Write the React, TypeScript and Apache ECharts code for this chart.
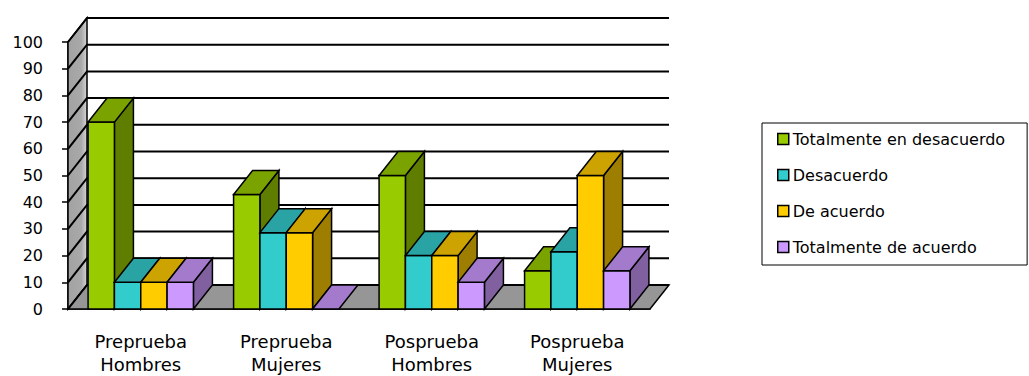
import React, { useEffect, useRef } from 'react';
import * as echarts from 'echarts';

// Survey groups on the category axis
const categories = ['Preprueba Hombres', 'Preprueba Mujeres', 'Posprueba Hombres', 'Posprueba Mujeres'];

// Response options (percent per group)
const seriesNames = ['Totalmente en desacuerdo', 'Desacuerdo', 'De acuerdo', 'Totalmente de acuerdo'];
const totalmenteDesacuerdo = [70, 42.9, 50, 14.3];
const desacuerdo = [10, 28.6, 20, 21.4];
const deAcuerdo = [10, 28.6, 20, 50];
const totalmenteAcuerdo = [10, 0, 10, 14.3];
const seriesValues = [totalmenteDesacuerdo, desacuerdo, deAcuerdo, totalmenteAcuerdo];

// Value axis ticks / gridlines
const yTicks = [0, 10, 20, 30, 40, 50, 60, 70, 80, 90, 100];

// Face colours of each 3D column: front, top, side
const palette = [
  { front: '#99CC00', top: '#7AA300', side: '#5F7E00' },
  { front: '#33CCCC', top: '#29A3A3', side: '#207E7E' },
  { front: '#FFCC00', top: '#CCA300', side: '#9E7E00' },
  { front: '#CC99FF', top: '#A37ACC', side: '#80609F' },
];

// Oblique depth offset of the 3D box (pixels)
const DX = 19;
const DY = -24;
const BAR_RATIO = 0.181; // column width as a share of the category band
const FONT = '"DejaVu Sans", "Liberation Sans", Arial, sans-serif';

const outline = { stroke: '#000', lineWidth: 1.5, lineJoin: 'miter' as const };

function barRenderer(idx: number) {
  const c = palette[idx];
  const n = seriesValues.length;
  return (params: any, api: any) => {
    const cat = api.value(0);
    const val = api.value(1);
    const base = api.coord([cat, 0]);
    const top = api.coord([cat, val]);
    const band = api.size([1, 0])[0];
    const bw = band * BAR_RATIO;
    const x0 = base[0] - (n / 2) * bw + idx * bw;
    const x1 = x0 + bw;
    const yb = base[1];
    const yt = top[1];
    const children: any[] = [];
    if (yb - yt > 0.01) {
      children.push({
        type: 'polygon',
        shape: { points: [[x1, yt], [x1 + DX, yt + DY], [x1 + DX, yb + DY], [x1, yb]] },
        style: { fill: c.side, ...outline },
      });
      children.push({
        type: 'rect',
        shape: { x: x0, y: yt, width: bw, height: yb - yt },
        style: { fill: c.front, ...outline },
      });
    }
    children.push({
      type: 'polygon',
      shape: { points: [[x0, yt], [x1, yt], [x1 + DX, yt + DY], [x0 + DX, yt + DY]] },
      style: { fill: c.top, ...outline },
    });
    return { type: 'group', children };
  };
}

// Left wall, back wall and floor of the 3D box
function wallRenderer(params: any, api: any) {
  const cs = params.coordSys;
  const xl = cs.x;
  const xr = cs.x + cs.width;
  const y0 = api.coord([0, 0])[1];
  const yMax = api.coord([0, yTicks[yTicks.length - 1]])[1];
  return {
    type: 'group',
    children: [
      {
        type: 'rect',
        shape: { x: xl + DX, y: yMax + DY, width: xr - xl, height: y0 - yMax },
        style: { fill: '#fff' },
      },
      {
        type: 'polygon',
        shape: { points: [[xl, yMax], [xl + DX, yMax + DY], [xl + DX, y0 + DY], [xl, y0]] },
        style: {
          fill: new echarts.graphic.LinearGradient(0, 0, 1, 0, [
            { offset: 0, color: '#a2a2a2' },
            { offset: 0.7, color: '#a9a9a9' },
            { offset: 1, color: '#d6d6d6' },
          ]),
          stroke: '#000',
          lineWidth: 1.5,
        },
      },
      {
        type: 'polygon',
        shape: { points: [[xl, y0], [xr, y0], [xr + DX, y0 + DY], [xl + DX, y0 + DY]] },
        style: { fill: '#969696', stroke: '#000', lineWidth: 1.5 },
      },
    ],
  };
}

// One gridline: diagonal on the left wall plus horizontal on the back wall
function gridRenderer(params: any, api: any) {
  const cs = params.coordSys;
  const xl = cs.x;
  const xr = cs.x + cs.width;
  const y = api.coord([0, api.value(1)])[1];
  return {
    type: 'polyline',
    shape: { points: [[xl, y], [xl + DX, y + DY], [xr + DX, y + DY]] },
    style: { fill: null, stroke: '#000', lineWidth: 2 },
  };
}

export default function App() {
  const ref = useRef<HTMLDivElement>(null);

  useEffect(() => {
    if (!ref.current) return;
    const chart = echarts.init(ref.current, null, { renderer: 'svg' });

    const barSeries = seriesValues.map((vals, i) => ({
      name: seriesNames[i],
      type: 'custom' as const,
      z: 3,
      itemStyle: { color: palette[i].front },
      encode: { x: 0, y: 1 },
      data: vals.map((v, j) => [j, v]),
      renderItem: barRenderer(i),
    }));

    chart.setOption({
      animation: false,
      backgroundColor: '#fff',
      grid: { left: 68, top: 42, width: 582, height: 267, outerBoundsMode: 'none', containLabel: false },
      xAxis: {
        type: 'category',
        data: categories,
        axisLine: { lineStyle: { color: '#000', width: 1.5 } },
        axisTick: { length: 7, lineStyle: { color: '#000', width: 1.5 } },
        axisLabel: {
          formatter: (v: string) => v.replace(' ', '\n'),
          color: '#000',
          fontFamily: FONT,
          fontSize: 18,
          lineHeight: 23,
          margin: 21,
        },
      },
      yAxis: {
        type: 'value',
        min: 0,
        max: 100,
        interval: 10,
        axisLine: { show: true, lineStyle: { color: '#000', width: 1.5 } },
        axisTick: { show: true, length: 6, lineStyle: { color: '#000', width: 1.5 } },
        splitLine: { show: false },
        axisLabel: { color: '#000', fontFamily: FONT, fontSize: 16, margin: 25 },
      },
      legend: {
        orient: 'vertical',
        left: 762,
        top: 123,
        padding: [7, 22, 9, 15],
        borderColor: '#000',
        borderWidth: 1,
        backgroundColor: '#fff',
        icon: 'rect',
        itemWidth: 11,
        itemHeight: 11,
        itemGap: 18,
        itemStyle: { borderColor: '#000', borderWidth: 1.5 },
        textStyle: { color: '#000', fontFamily: FONT, fontSize: 16, lineHeight: 18, padding: [0, 0, 0, -1] },
        data: seriesNames.map((name, i) => ({ name, itemStyle: { color: palette[i].front } })),
        selectedMode: false,
      },
      series: [
        {
          type: 'custom',
          z: 1,
          silent: true,
          encode: { x: 0, y: 1 },
          data: [[0, 0]],
          renderItem: wallRenderer,
        },
        {
          type: 'custom',
          z: 2,
          silent: true,
          encode: { x: 0, y: 1 },
          data: yTicks.map((t) => [0, t]),
          renderItem: gridRenderer,
        },
        ...barSeries,
      ],
    });

    return () => chart.dispose();
  }, []);

  return (
    <div
      ref={ref}
      style={{ position: 'fixed', left: 0, top: 0, width: 1029, height: 376 }}
    />
  );
}
